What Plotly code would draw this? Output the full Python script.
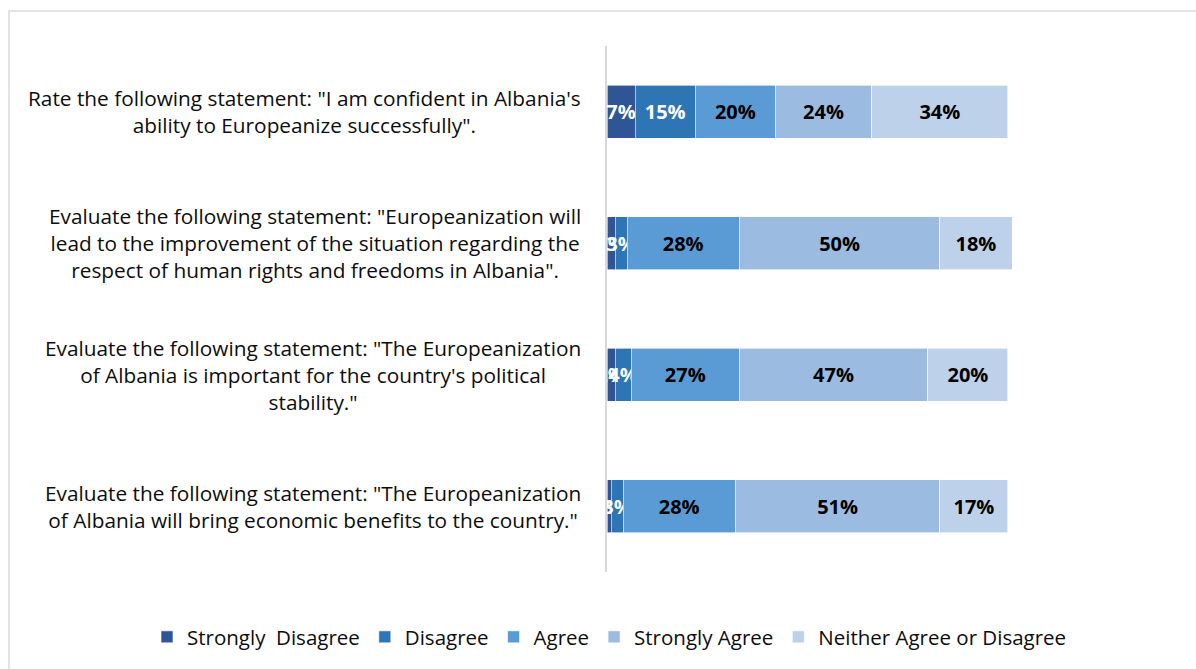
import plotly.graph_objects as go

categories = [
    "Rate the following statement: \"I am confident in Albania's<br>ability to Europeanize successfully\".",
    "Evaluate the following statement: \"Europeanization will<br>lead to the improvement of the situation regarding the<br>respect of human rights and freedoms in Albania\".",
    "Evaluate the following statement: \"The Europeanization<br>of Albania is important for the country's political<br>stability.\"",
    "Evaluate the following statement: \"The Europeanization<br>of Albania will bring economic benefits to the country.\"",
]
series_names = ["Strongly  Disagree", "Disagree", "Agree", "Strongly Agree", "Neither Agree or Disagree"]
strongly_disagree = [7, 2, 2, 1]
disagree = [15, 3, 4, 3]
agree = [20, 28, 27, 28]
strongly_agree = [24, 50, 47, 51]
neither = [34, 18, 20, 17]
series_values = [strongly_disagree, disagree, agree, strongly_agree, neither]

colors = ["#2F5597", "#2E75B6", "#5B9BD5", "#9BBBE1", "#BDD1EA"]
text_colors = ["white", "white", "black", "black", "black"]

W, H = 1196, 669
L, R, T, B = 607, 1012, 46, 572
FONT = "Open Sans"


def px_x(p):
    return (p - L) / (R - L)


def px_y(p):
    return (B - p) / (B - T)


fig = go.Figure()
for name, vals, col, tc in zip(series_names, series_values, colors, text_colors):
    fig.add_trace(go.Bar(
        y=categories, x=vals, name=name, orientation="h",
        marker=dict(color=col, line=dict(color="white", width=0.6)),
        texttemplate="%{x}%", textposition="inside", insidetextanchor="middle",
        textangle=0,
        textfont=dict(family=FONT, size=20, color=tc, weight="bold"),
        hoverinfo="skip",
    ))

for cat in categories:
    fig.add_annotation(
        x=px_x(583), xref="paper", y=cat, yref="y", text=cat,
        xanchor="right", yanchor="middle", align="center", showarrow=False,
        font=dict(family=FONT, size=20.8, color="#0D0D0D"),
    )

# outer chart frame
fig.add_shape(type="rect", xref="paper", yref="paper",
              x0=px_x(9), x1=px_x(1205), y0=px_y(11), y1=px_y(680),
              line=dict(color="#D9D9D9", width=1.5), fillcolor="rgba(0,0,0,0)", layer="below")

fig.update_layout(
    width=W, height=H,
    margin=dict(l=L, r=W - R, t=T, b=H - B, pad=0, autoexpand=False),
    barmode="stack", bargap=0.6,
    plot_bgcolor="white", paper_bgcolor="white",
    uniformtext=dict(minsize=20, mode="show"),
    xaxis=dict(range=[0, 101], visible=False, fixedrange=True),
    yaxis=dict(autorange="reversed", showticklabels=False, showline=True,
               linecolor="#D9D9D9", linewidth=2, ticks="", showgrid=False, fixedrange=True),
    legend=dict(orientation="h", x=px_x(147), xanchor="left", y=px_y(637), yanchor="middle",
                font=dict(family=FONT, size=20.5, color="#0D0D0D"), traceorder="normal",
                itemclick=False, itemdoubleclick=False, itemwidth=30),
    showlegend=True,
    font=dict(family=FONT),
)

fig.write_html("out.html")
